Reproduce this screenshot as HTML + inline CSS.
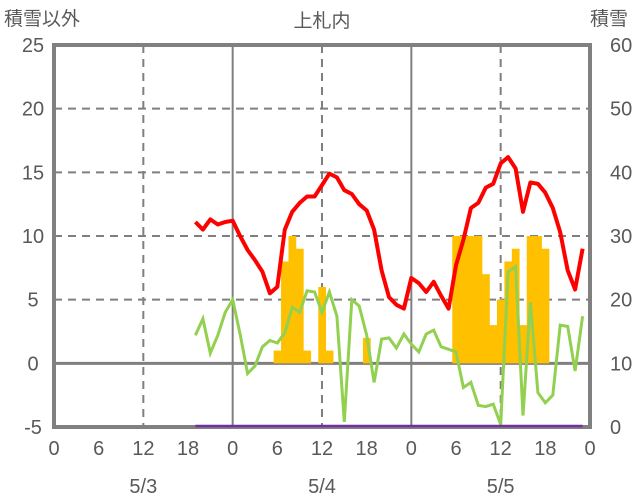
<!DOCTYPE html>
<html><head><meta charset="utf-8"><style>
html,body{margin:0;padding:0;background:#fff;}
svg{display:block;font-family:"Liberation Sans","Noto Sans CJK JP",sans-serif;}
</style></head><body>
<svg id="chart" width="636" height="501" viewBox="0 0 636 501">
<text x="322" y="27" font-size="19" fill="#595959" text-anchor="middle">上札内</text>
<text x="4" y="25" font-size="19" fill="#595959">積雪以外</text>
<text x="590" y="25" font-size="19" fill="#595959">積雪</text>
<g id="gridLayer"></g>
<g id="barLayer"></g>
<g id="lineLayer"></g>
<g id="axisLayer"></g>
<g id="depthLayer"></g>
</svg>
<script>
const leftTicks=[25,20,15,10,5,0,-5];
const rightTicks=[60,50,40,30,20,10,0];
const hourTicks=[0,6,12,18,0,6,12,18,0,6,12,18,0];
const dateLabels=["5/3","5/4","5/5"];
const startHour=19;
const tempRed=[11.1,10.5,11.3,10.9,11.1,11.2,10.0,8.9,8.1,7.2,5.5,6.0,10.5,11.9,12.6,13.1,13.1,14.0,14.9,14.6,13.6,13.3,12.5,12.0,10.5,7.3,5.2,4.6,4.3,6.7,6.3,5.6,6.4,5.3,4.3,7.7,9.7,12.2,12.6,13.8,14.1,15.7,16.2,15.3,11.9,14.2,14.1,13.4,12.2,10.3,7.3,5.8,9.0];
const seriesGreen=[2.2,3.5,0.8,2.2,4.0,5.0,2.3,-0.8,-0.2,1.3,1.8,1.6,2.4,4.4,4.0,5.7,5.6,4.0,5.6,3.7,-4.6,5.0,4.5,2.2,-1.5,1.9,2.0,1.2,2.3,1.5,0.9,2.3,2.6,1.3,1.1,0.9,-1.9,-1.5,-3.3,-3.4,-3.2,-4.8,7.2,7.6,-4.1,4.8,-2.3,-3.1,-2.5,3.0,2.9,-0.6,3.7];
const snowDepth=[0,0,0,0,0,0,0,0,0,0,0,0,0,0,0,0,0,0,0,0,0,0,0,0,0,0,0,0,0,0,0,0,0,0,0,0,0,0,0,0,0,0,0,0,0,0,0,0,0,0,0,0,0];
const barHours=[30,31,32,33,34,36,37,42,54,55,56,57,58,59,60,61,62,63,64,65,66];
const barValues=[1,8,10,9,1,6,1,2,10,10,10,10,7,3,5,8,9,3,10,10,9];

const X0=54,X1=590,Y0=45,Y1=427,HOURS=72;
const NS="http://www.w3.org/2000/svg";
function xh(h){return X0+(X1-X0)*h/HOURS;}
function yl(v){return Y1-(v+5)/30*(Y1-Y0);}
function yr(v){return Y1-1-v/60*(Y1-Y0);}
function mk(tag,attrs,parent){const e=document.createElementNS(NS,tag);for(const k in attrs)e.setAttribute(k,attrs[k]);parent.appendChild(e);return e;}
const gridG=document.getElementById('gridLayer'),barsG=document.getElementById('barLayer'),linesG=document.getElementById('lineLayer'),axesG=document.getElementById('axisLayer'),topLayer=document.getElementById('depthLayer');

leftTicks.forEach(v=>{
  if(v===25||v===-5)return;
  const y=yl(v);
  const l=mk('line',{x1:X0,x2:X1,y1:y,y2:y,stroke:'#7f7f7f','stroke-width':v===0?3:2,'stroke-dasharray':v===0?'none':'8,6'},gridG);
  
  
});
for(let h=12;h<HOURS;h+=12){
  const x=xh(h);const day=h%24===0;
  const l=mk('line',{x1:x,x2:x,y1:Y0,y2:Y1,stroke:'#7f7f7f','stroke-width':2,'stroke-dasharray':day?'none':'8,6'},gridG);
  
  
}
const bw=(X1-X0)/HOURS;
barHours.forEach((h,i)=>{
  const y=yl(barValues[i]);
  const r=mk('rect',{x:xh(h)-bw/2,y:y,width:bw+0.3,height:yl(0)-y,fill:'#ffc000'},barsG);
  
  
});
function pts(arr,f){return arr.map((v,i)=>xh(startHour+i).toFixed(1)+','+f(v).toFixed(1)).join(' ');}
const g=mk('polyline',{points:pts(seriesGreen,yl),fill:'none',stroke:'#92d050','stroke-width':3,'stroke-linejoin':'miter'},linesG);


const r=mk('polyline',{points:pts(tempRed,yl),fill:'none',stroke:'#ff0000','stroke-width':4,'stroke-linejoin':'round'},linesG);



const fr=mk('rect',{x:X0,y:Y0,width:X1-X0,height:Y1-Y0,fill:'none',stroke:'#808080','stroke-width':4},axesG);


const p=mk('polyline',{points:pts(snowDepth,yr),fill:'none',stroke:'#7030a0','stroke-width':2.5},topLayer);


leftTicks.forEach(v=>{
  const t=mk('text',{x:33,y:yl(v)+7,'font-size':20,fill:'#595959','text-anchor':'middle'},axesG);
  t.textContent=v;
  
  
});
rightTicks.forEach(v=>{
  const t=mk('text',{x:610,y:yl((v/60)*30-5)+7,'font-size':20,fill:'#595959'},axesG);
  t.textContent=v;
  
  
});
hourTicks.forEach((v,i)=>{
  const t=mk('text',{x:xh(i*6),y:455,'font-size':20,fill:'#595959','text-anchor':'middle'},axesG);
  t.textContent=v;
  
  
});
dateLabels.forEach((d,i)=>{
  const t=mk('text',{x:xh(i*24+12),y:493,'font-size':20,fill:'#595959','text-anchor':'middle'},axesG);
  t.textContent=d;
  
  
});
</script>
</body></html>
